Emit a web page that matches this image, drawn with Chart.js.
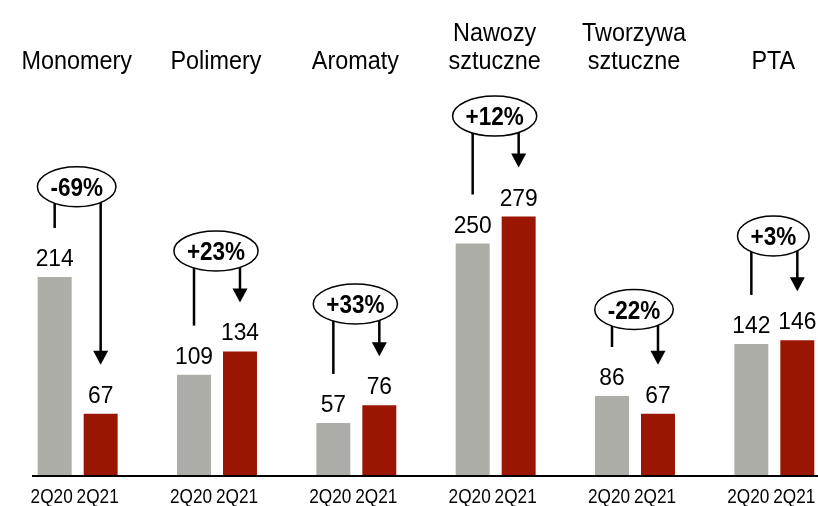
<!DOCTYPE html>
<html>
<head>
<meta charset="utf-8">
<script src="https://cdn.jsdelivr.net/npm/chart.js@4.4.0/dist/chart.umd.min.js"></script>
<style>
  html, body { margin: 0; padding: 0; background: #ffffff; overflow: hidden; }
  #wrap { width: 818px; height: 506px; overflow: hidden; position: relative; }
  canvas { display: block; }
</style>
</head>
<body>
<div id="wrap"><canvas id="c" width="844" height="506"></canvas></div>
<script>
// ---- data ----
const categories = [["Monomery"], ["Polimery"], ["Aromaty"], ["Nawozy", "sztuczne"], ["Tworzywa", "sztuczne"], ["PTA"]];
const periods = ["2Q20", "2Q21"];
const values2Q20 = [214, 109, 57, 250, 86, 142];
const values2Q21 = [67, 134, 76, 279, 67, 146];
const changeLabels = ["-69%", "+23%", "+33%", "+12%", "-22%", "+3%"];
const bubbleLevels = [311, 242, 185, 387, 179, 258]; // vertical level of change bubbles, in value units

const GRAY = "#adada7";
const RED = "#9b1503";
const FONT = "'Liberation Sans', Arial, sans-serif";

function drawText(ctx, text, x, y, font, sx, align) {
  ctx.save();
  ctx.font = font;
  ctx.textAlign = align || "center";
  ctx.textBaseline = "alphabetic";
  ctx.fillStyle = "#000";
  ctx.translate(x, y);
  ctx.scale(sx, 1);
  ctx.fillText(text, 0, 0);
  ctx.restore();
}

const annotations = {
  id: "annotations",
  afterDatasetsDraw(chart) {
    const ctx = chart.ctx;
    const xs = chart.scales.x, ys = chart.scales.y;
    const m0 = chart.getDatasetMeta(0).data;
    const m1 = chart.getDatasetMeta(1).data;
    const base = ys.getPixelForValue(0);

    // axis line
    ctx.save();
    ctx.strokeStyle = "#000";
    ctx.lineWidth = 2;
    ctx.beginPath();
    ctx.moveTo(32, base);
    ctx.lineTo(chart.width, base);
    ctx.stroke();
    ctx.restore();

    categories.forEach((cat, i) => {
      const cx = xs.getPixelForValue(i);
      // category title
      cat.forEach((ln, k) => {
        const y = 69 - (cat.length - 1 - k) * 28;
        drawText(ctx, ln, cx - 1, y, "26px " + FONT, 0.9, "center");
      });

      const b0 = m0[i], b1 = m1[i];
      // value labels
      drawText(ctx, String(values2Q20[i]), b0.x, b0.y - 11, "24px " + FONT, 0.95, "center");
      drawText(ctx, String(values2Q21[i]), b1.x, b1.y - 11, "24px " + FONT, 0.95, "center");
      // period labels
      drawText(ctx, periods[0], b0.x - 3, 503, "21px " + FONT, 0.82, "center");
      drawText(ctx, periods[1], b1.x - 3, 503, "21px " + FONT, 0.82, "center");

      // bubble
      const by = ys.getPixelForValue(bubbleLevels[i]);
      const bx = cx - 1;
      ctx.save();
      ctx.font = "bold 25px " + FONT;
      const tw = ctx.measureText(changeLabels[i]).width * 0.9;
      ctx.restore();
      const rx = tw / 2 + 13, ry = 20;

      // connector lines
      const leftEnd = b0.y - 49;
      const tipY = b1.y - 49;
      ctx.save();
      ctx.strokeStyle = "#000";
      ctx.fillStyle = "#000";
      ctx.lineWidth = 2.5;
      ctx.beginPath();
      ctx.moveTo(b0.x, by);
      ctx.lineTo(b0.x, leftEnd);
      ctx.stroke();
      ctx.beginPath();
      ctx.moveTo(b1.x, by);
      ctx.lineTo(b1.x, tipY - 10);
      ctx.stroke();
      ctx.beginPath();
      ctx.moveTo(b1.x, tipY);
      ctx.lineTo(b1.x - 7.5, tipY - 14);
      ctx.lineTo(b1.x + 7.5, tipY - 14);
      ctx.closePath();
      ctx.fill();
      // ellipse
      ctx.beginPath();
      ctx.ellipse(bx, by, rx, ry, 0, 0, Math.PI * 2);
      ctx.fillStyle = "#fff";
      ctx.fill();
      ctx.lineWidth = 1.5;
      ctx.strokeStyle = "#000";
      ctx.stroke();
      ctx.restore();
      drawText(ctx, changeLabels[i], bx, by + 9, "bold 25px " + FONT, 0.9, "center");
    });
  }
};

new Chart(document.getElementById("c"), {
  type: "bar",
  data: {
    labels: categories.map(c => c.join(" ")),
    datasets: [
      { label: periods[0], data: values2Q20, backgroundColor: GRAY, borderWidth: 0 },
      { label: periods[1], data: values2Q21, backgroundColor: RED, borderWidth: 0 }
    ]
  },
  options: {
    responsive: false,
    animation: false,
    devicePixelRatio: 1,
    layout: { padding: { left: 8, right: 0, top: 197, bottom: 30 } },
    categoryPercentage: 0.66,
    barPercentage: 0.739,
    plugins: { legend: { display: false }, tooltip: { enabled: false } },
    scales: {
      x: { display: false, offset: true, grid: { display: false } },
      y: { display: false, min: 0, max: 300 }
    }
  },
  plugins: [annotations]
});
</script>
</body>
</html>
